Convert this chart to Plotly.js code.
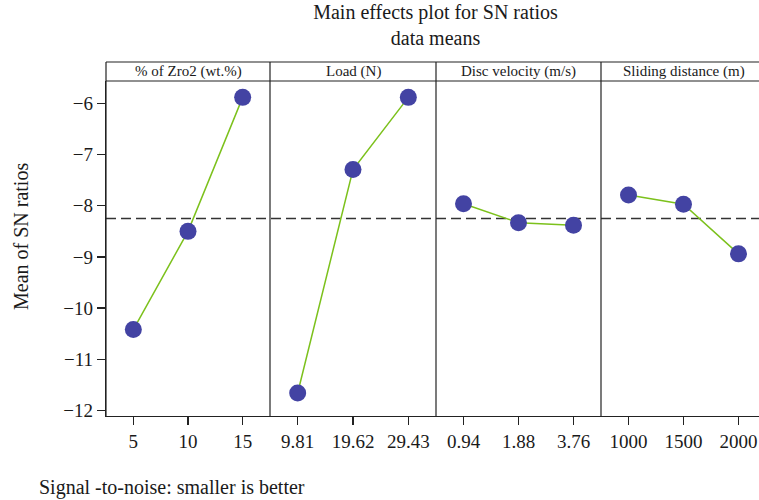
<!DOCTYPE html>
<html>
<head>
<meta charset="utf-8">
<script src="https://cdn.plot.ly/plotly-3.0.1.min.js"></script>
<style>html,body{margin:0;padding:0;background:#fff;}#chart{width:759px;height:500px;}</style>
</head>
<body>
<div id="chart"></div>
<script>
// Factor names (panel strips)
const factors = ["% of Zro2 (wt.%)", "Load (N)", "Disc velocity (m/s)", "Sliding distance (m)"];
// Levels (tick labels) for each factor
const zro2Levels = ["5", "10", "15"];
const loadLevels = ["9.81", "19.62", "29.43"];
const velocityLevels = ["0.94", "1.88", "3.76"];
const distanceLevels = ["1000", "1500", "2000"];
// Mean of SN ratios for each level
const zro2SN = [-10.42, -8.50, -5.88];
const loadSN = [-11.66, -7.29, -5.88];
const velocitySN = [-7.96, -8.33, -8.38];
const distanceSN = [-7.79, -7.97, -8.94];

const levels = [zro2Levels, loadLevels, velocityLevels, distanceLevels];
const values = [zro2SN, loadSN, velocitySN, distanceSN];
const allVals = [].concat(zro2SN, loadSN, velocitySN, distanceSN);
const overallMean = allVals.reduce((a, b) => a + b, 0) / allVals.length;

const FONT = "Liberation Serif, Times New Roman, serif";
const lineColor = "#7cc11c";
const markerColor = "#4343a3";

// layout geometry (pixels)
const W = 759, H = 500;
const L = 106, R = 0, T = 81, B = 84;
const plotW = W - L - R, plotH = H - T - B;
const px2x = p => (p - L) / plotW;
const px2y = p => (H - B - p) / plotH;
const panelEdges = [106, 270, 436, 601, 759];
const dom = [];
for (let i = 0; i < 4; i++) dom.push([px2x(panelEdges[i]), px2x(panelEdges[i + 1])]);
const xRanges = [[-0.5, 2.5], [-0.5, 2.5], [-0.5, 2.5], [-0.5, 2.373]];

const traces = [];
const layout = {
  width: W, height: H,
  margin: {l: L, r: R, t: T, b: B},
  paper_bgcolor: "#fff", plot_bgcolor: "#fff",
  showlegend: false,
  font: {family: FONT, color: "#1a1a1a"},
  title: {
    text: "Main effects plot for SN ratios<br>data means",
    font: {family: FONT, size: 20, color: "#1a1a1a"},
    x: px2x(435.5), xanchor: "center", xref: "paper",
    y: 0.963, yanchor: "top", yref: "container"
  },
  yaxis: {
    range: [-12.11, -5.56], dtick: 1, tick0: -12,
    ticks: "outside", ticklen: 8, tickwidth: 1.2, tickcolor: "#222",
    showline: true, linecolor: "#222", linewidth: 1.2,
    showgrid: false, zeroline: false,
    tickfont: {family: FONT, size: 19, color: "#1a1a1a"},
    anchor: "x"
  },
  shapes: [], annotations: []
};

for (let i = 0; i < 4; i++) {
  const xa = i === 0 ? "x" : "x" + (i + 1);
  const xk = i === 0 ? "xaxis" : "xaxis" + (i + 1);
  traces.push({
    type: "scatter", mode: "lines+markers",
    x: levels[i], y: values[i], xaxis: xa, yaxis: "y",
    line: {color: lineColor, width: 1.5},
    marker: {color: markerColor, size: 17, line: {width: 0}},
    hoverinfo: "x+y"
  });
  layout[xk] = {
    domain: dom[i], type: "category", range: xRanges[i],
    ticks: "outside", ticklen: 8, tickwidth: 1.2, tickcolor: "#222",
    showline: true, linecolor: "#222", linewidth: 1.2,
    showgrid: false, zeroline: false, anchor: "y",
    tickfont: {family: FONT, size: 19, color: "#1a1a1a"}
  };
  // strip label
  layout.annotations.push({
    text: factors[i], xref: "paper", yref: "paper",
    x: (dom[i][0] + dom[i][1]) / 2,
    y: px2y(71.5), xanchor: "center", yanchor: "middle",
    showarrow: false, font: {family: FONT, size: 15, color: "#1a1a1a"}
  });
}
// strip 4 center accounts for the panel running past the right edge
layout.annotations[3].x = px2x((601 + 766) / 2);

// y axis title
layout.annotations.push({
  text: "Mean of SN ratios", xref: "paper", yref: "paper",
  x: px2x(21), y: px2y(236), xanchor: "center", yanchor: "middle", textangle: -90,
  showarrow: false, font: {family: FONT, size: 20, color: "#1a1a1a"}
});

// frame: top line, strip box, dividers
const yTopPlot = 1, yTopStrip = px2y(62);
const lineStyle = {color: "#222", width: 1.2};
layout.shapes.push({type: "line", xref: "paper", yref: "paper", x0: 0, x1: 1.02, y0: yTopPlot, y1: yTopPlot, line: lineStyle});
layout.shapes.push({type: "line", xref: "paper", yref: "paper", x0: 0, x1: 1.02, y0: yTopStrip, y1: yTopStrip, line: lineStyle});
layout.shapes.push({type: "line", xref: "paper", yref: "paper", x0: 0, x1: 0, y0: 0, y1: yTopStrip, line: lineStyle});
for (let i = 1; i < 4; i++) {
  layout.shapes.push({type: "line", xref: "paper", yref: "paper", x0: dom[i][0], x1: dom[i][0], y0: 0, y1: yTopStrip, line: lineStyle});
}
// overall mean reference line
layout.shapes.push({type: "line", xref: "paper", yref: "y", x0: 0, x1: 1, y0: overallMean, y1: overallMean,
  line: {color: "#333", width: 1.5, dash: "10px,5px"}, layer: "below"});

// footer note
layout.annotations.push({
  text: "Signal -to-noise: smaller is better", xref: "paper", yref: "paper",
  x: px2x(37), y: px2y(487), xanchor: "left", yanchor: "middle",
  showarrow: false, font: {family: FONT, size: 20, color: "#1a1a1a"}
});

Plotly.newPlot("chart", traces, layout, {displayModeBar: false, staticPlot: true});
</script>
</body>
</html>
